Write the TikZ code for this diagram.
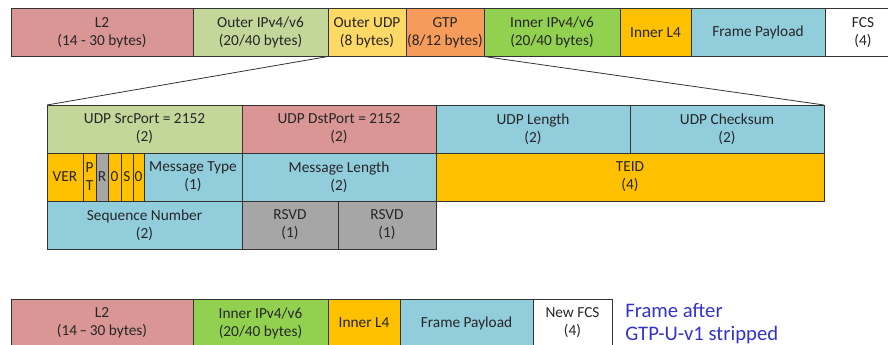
\documentclass[tikz,border=0pt]{standalone}
\usepackage{fontspec}
\setmainfont{Carlito}
\usepackage{xcolor}
\usetikzlibrary{positioning}

\definecolor{hdrred}{HTML}{D99694}
\definecolor{hdrsage}{HTML}{C4D79B}
\definecolor{hdrsand}{HTML}{FFD966}
\definecolor{hdrorange}{HTML}{F79B5B}
\definecolor{hdrgreen}{HTML}{92D050}
\definecolor{hdramber}{HTML}{FFC000}
\definecolor{hdrblue}{HTML}{92CDDC}
\definecolor{hdrgray}{HTML}{A6A6A6}
\definecolor{notecol}{RGB}{51,51,204}

\tikzset{
  fld/.style={draw=black!80, line width=0.6pt, anchor=north west, inner sep=0pt,
    outer sep=0pt, align=center, minimum height=36pt, minimum width=#1*0.75pt,
    text=black!85, font=\fontsize{11.5}{13.5}\selectfont},
  zoomline/.style={draw=black!80, line width=0.6pt}
}

\begin{document}
\begin{tikzpicture}[x=0.75pt, y=-0.75pt]
          \useasboundingbox (0,0) rectangle (888,345);

          % Original frame with the GTP-U tunnel headers
          \node[fld=182, fill=hdrred] (l2) at (11,8.5) {L2\\(14 - 30 bytes)};
          \node[fld=135, fill=hdrsage] (oip) at (l2.north east) {Outer IPv4/v6\\(20/40 bytes)};
          \node[fld=78, fill=hdrsand] (oudp) at (oip.north east) {Outer UDP\\(8 bytes)};
          \node[fld=78, fill=hdrorange] (gtp) at (oudp.north east) {GTP\\(8/12 bytes)};
          \node[fld=136, fill=hdrgreen] (iip) at (gtp.north east) {Inner IPv4/v6\\(20/40 bytes)};
          \node[fld=71, fill=hdramber] (il4) at (iip.north east) {Inner L4};
          \node[fld=134, fill=hdrblue] (pay) at (il4.north east) {Frame Payload};
          \node[fld=76, fill=white] (fcs) at (pay.north east) {FCS\\(4)};

          % Expanded UDP + GTP header, first row
          \node[fld=195, fill=hdrsage] (src) at (47,105) {UDP SrcPort = 2152\\(2)};
          \node[fld=194, fill=hdrred] (dst) at (src.north east) {UDP DstPort = 2152\\(2)};
          \node[fld=194, fill=hdrblue] (ulen) at (dst.north east) {UDP Length\\(2)};
          \node[fld=194, fill=hdrblue] (cks) at (ulen.north east) {UDP Checksum\\(2)};

          % second row: flags, type, length, TEID
          \node[fld=36, fill=hdramber] (ver) at (src.south west) {VER};
          \node[fld=13, fill=hdramber] (pt) at (ver.north east) {P\\T};
          \node[fld=12, fill=hdrgray] (rbit) at (pt.north east) {R};
          \node[fld=13, fill=hdramber] (zeroa) at (rbit.north east) {0};
          \node[fld=12, fill=hdramber] (sbit) at (zeroa.north east) {S};
          \node[fld=11, fill=hdramber] (zerob) at (sbit.north east) {0};
          \node[fld=98, fill=hdrblue] (mtype) at (zerob.north east) {Message Type\\(1)};
          \node[fld=194, fill=hdrblue] (mlen) at (mtype.north east) {Message Length\\(2)};
          \node[fld=388, fill=hdramber] (teid) at (mlen.north east) {TEID\\(4)};

          % third row
          \node[fld=195, fill=hdrblue] (seq) at (ver.south west) {Sequence Number\\(2)};
          \node[fld=96, fill=hdrgray] (rsvda) at (seq.north east) {RSVD\\(1)};
          \node[fld=98, fill=hdrgray] (rsvdb) at (rsvda.north east) {RSVD\\(1)};

          % zoom lines from the outer UDP/GTP headers
          \draw[zoomline] (oudp.south west) -- (src.north west);
          \draw[zoomline] (gtp.south east) -- (cks.north east);

          % Frame after decapsulation
          \node[fld=182, fill=hdrred] (nl2) at (11,299) {L2\\(14\,--\,30 bytes)};
          \node[fld=135, fill=hdrgreen] (niip) at (nl2.north east) {Inner IPv4/v6\\(20/40 bytes)};
          \node[fld=72, fill=hdramber] (nil4) at (niip.north east) {Inner L4};
          \node[fld=133, fill=hdrblue] (npay) at (nil4.north east) {Frame Payload};
          \node[fld=79, fill=white] (nfcs) at (npay.north east) {New FCS\\(4)};

          \node[anchor=west, align=left, inner sep=0pt, text=notecol,
            font=\fontsize{15.5}{17.5}\selectfont] (note) at (625,323.5)
            {Frame after\\GTP-U-v1 stripped};
      \end{tikzpicture}
\end{document}
